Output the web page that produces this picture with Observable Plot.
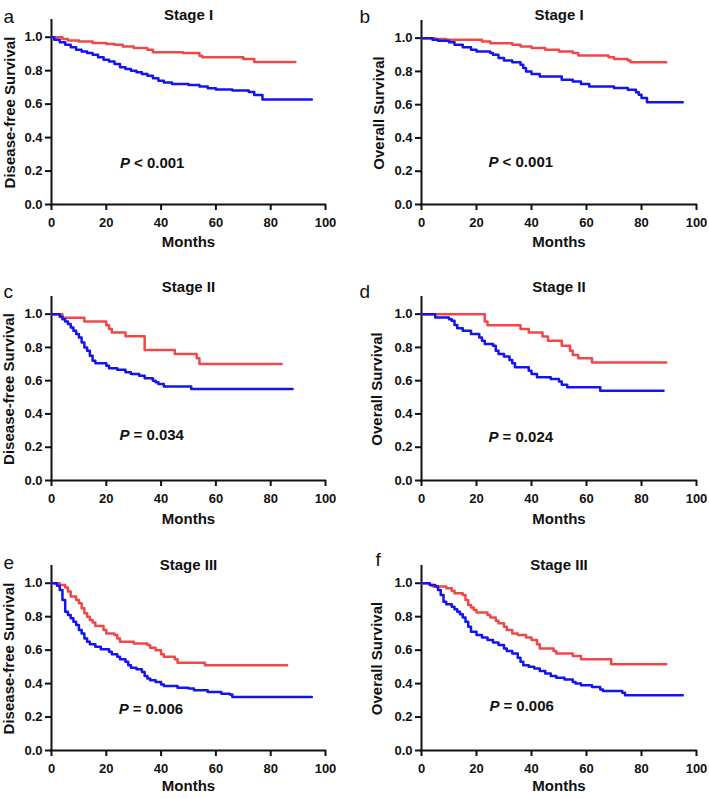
<!DOCTYPE html>
<html>
<head>
<meta charset="utf-8">
<script src="https://cdn.jsdelivr.net/npm/d3@7"></script>
<script src="https://cdn.jsdelivr.net/npm/@observablehq/plot@0.6"></script>
<style>
  body { margin: 0; background: #fff; }
  #wrap { position: relative; width: 709px; height: 798px; background: #fff; overflow: hidden; }
  .panel { position: absolute; }
</style>
</head>
<body>
<div id="wrap"></div>
<script>
// ---- Data (months, survival probability) ----
const xTicks = [0, 20, 40, 60, 80, 100];
const yTicks = [0, 0.2, 0.4, 0.6, 0.8, 1.0];

// a: Stage I, disease-free survival
const aRedMonths = [0,4,6,10,15,20,23,26,30,35,37,48,54,55,70,74,89];
const aRedSurv   = [1,0.99,0.98,0.975,0.965,0.96,0.955,0.945,0.935,0.925,0.91,0.905,0.89,0.88,0.87,0.852,0.852];
const aBlueMonths = [0,1,3,5,7,9,11,13,15,17,19,21,23,25,27,29,31,33,35,37,39,41,44,50,54,57,60,66,72,74,77,95];
const aBlueSurv   = [1,0.985,0.97,0.955,0.94,0.925,0.915,0.905,0.895,0.88,0.865,0.855,0.84,0.82,0.81,0.8,0.79,0.78,0.77,0.755,0.74,0.73,0.72,0.715,0.705,0.695,0.688,0.682,0.672,0.655,0.628,0.628];

// b: Stage I, overall survival
const bRedMonths = [0,5,9,22,25,33,36,40,45,50,55,57,68,70,75,76,89];
const bRedSurv   = [1,0.995,0.99,0.98,0.97,0.96,0.95,0.94,0.93,0.92,0.91,0.895,0.885,0.875,0.865,0.855,0.855];
const bBlueMonths = [0,4,6,10,12,15,18,20,25,26,28,30,33,36,37,38,40,43,51,55,58,61,70,75,78,79,80,82,95];
const bBlueSurv   = [1,0.99,0.985,0.975,0.96,0.945,0.93,0.92,0.91,0.9,0.88,0.865,0.855,0.84,0.82,0.8,0.785,0.77,0.75,0.74,0.725,0.71,0.7,0.69,0.675,0.66,0.64,0.615,0.615];

// c: Stage II, disease-free survival
const cRedMonths = [0,4,12,20,21,22,27,34,45,53,54,84];
const cRedSurv   = [1,0.978,0.956,0.933,0.91,0.889,0.867,0.784,0.76,0.735,0.70,0.70];
const cBlueMonths = [0,3,4,5,6,7,8,9,10,11,12,13,14,15,16,20,21,24,27,29,32,34,37,38,39,41,51,88];
const cBlueSurv   = [1,0.985,0.97,0.955,0.94,0.92,0.9,0.88,0.86,0.83,0.8,0.78,0.75,0.72,0.705,0.69,0.675,0.665,0.65,0.64,0.63,0.615,0.6,0.59,0.58,0.565,0.55,0.55];

// d: Stage II, overall survival
const dRedMonths = [0,23,24,36,39,44,46,51,54,55,57,62,89];
const dRedSurv   = [1,0.955,0.933,0.91,0.89,0.865,0.84,0.81,0.78,0.755,0.735,0.71,0.71];
const dBlueMonths = [0,5,10,11,12,13,15,18,21,22,23,26,27,28,30,32,33,34,39,40,42,47,50,51,53,65,88];
const dBlueSurv   = [1,0.98,0.97,0.96,0.935,0.915,0.9,0.88,0.86,0.84,0.82,0.81,0.78,0.76,0.745,0.725,0.705,0.68,0.66,0.64,0.62,0.61,0.595,0.575,0.56,0.54,0.54];

// e: Stage III, disease-free survival
const eRedMonths = [0,3,5,6,7,9,10,11,12,13,14,15,16,19,20,23,24,25,30,35,36,38,40,41,45,46,56,86];
const eRedSurv   = [1,0.99,0.975,0.95,0.92,0.9,0.88,0.85,0.82,0.8,0.78,0.765,0.745,0.72,0.7,0.69,0.67,0.65,0.64,0.63,0.615,0.6,0.575,0.56,0.545,0.525,0.51,0.51];
const eBlueMonths = [0,2,3,4,5,6,7,8,9,10,11,12,13,14,16,18,21,22,24,25,27,28,29,31,33,34,35,36,38,40,41,46,50,52,57,62,65,66,95];
const eBlueSurv   = [1,0.985,0.96,0.9,0.83,0.81,0.79,0.77,0.75,0.72,0.70,0.67,0.65,0.635,0.62,0.605,0.59,0.575,0.56,0.545,0.53,0.51,0.495,0.485,0.47,0.445,0.43,0.42,0.41,0.395,0.385,0.375,0.37,0.36,0.35,0.34,0.335,0.32,0.32];

// f: Stage III, overall survival
const fRedMonths = [0,3,4,9,11,12,15,16,17,18,19,20,24,25,27,28,30,31,33,35,38,40,42,43,48,49,55,58,69,89];
const fRedSurv   = [1,0.99,0.98,0.97,0.955,0.94,0.93,0.9,0.87,0.855,0.84,0.825,0.81,0.795,0.775,0.76,0.74,0.72,0.70,0.69,0.675,0.66,0.635,0.61,0.595,0.58,0.565,0.545,0.515,0.515];
const fBlueMonths = [0,3,5,6,7,8,9,11,12,13,14,15,16,17,18,20,22,24,26,28,30,31,33,35,36,37,39,41,43,45,47,49,52,55,56,58,62,65,66,73,74,95];
const fBlueSurv   = [1,0.99,0.98,0.96,0.93,0.89,0.875,0.86,0.845,0.83,0.815,0.795,0.77,0.74,0.71,0.69,0.675,0.66,0.645,0.63,0.61,0.595,0.58,0.555,0.53,0.51,0.5,0.49,0.475,0.46,0.445,0.435,0.425,0.41,0.4,0.39,0.38,0.365,0.355,0.345,0.33,0.33];

const panelLetters = ["a", "b", "c", "d", "e", "f"];
const panelTitles  = ["Stage I", "Stage I", "Stage II", "Stage II", "Stage III", "Stage III"];
const yLabels      = ["Disease-free Survival", "Overall Survival", "Disease-free Survival", "Overall Survival", "Disease-free Survival", "Overall Survival"];
const pTexts       = ["< 0.001", "< 0.001", "= 0.034", "= 0.024", "= 0.006", "= 0.006"];
const pMonth       = [25, 24.4, 24.8, 24.4, 24.5, 24.7];
const pSurv        = [0.245, 0.253, 0.275, 0.26, 0.247, 0.263];

const redCurves  = [[aRedMonths, aRedSurv], [bRedMonths, bRedSurv], [cRedMonths, cRedSurv], [dRedMonths, dRedSurv], [eRedMonths, eRedSurv], [fRedMonths, fRedSurv]];
const blueCurves = [[aBlueMonths, aBlueSurv], [bBlueMonths, bBlueSurv], [cBlueMonths, cBlueSurv], [dBlueMonths, dBlueSurv], [eBlueMonths, eBlueSurv], [fBlueMonths, fBlueSurv]];

const RED = "#f04848";
const BLUE = "#1414f0";

// layout of each panel
const layout = [
  {left: 0,   top: 0,   w: 354, ml: 51, mr: 29, mt: 20, mb: 62, letterDx: -48, letterDy: -11, titleDy: -11, ylabOff: -41, monthsDy: 42},
  {left: 354, top: 0,   w: 355, ml: 67, mr: 13, mt: 21, mb: 62, letterDx: -62, letterDy: -12, titleDy: -12, ylabOff: -42, monthsDy: 42},
  {left: 0,   top: 266, w: 354, ml: 51, mr: 29, mt: 31, mb: 52, letterDx: -48, letterDy: -13, titleDy: -16, ylabOff: -42, monthsDy: 43},
  {left: 354, top: 266, w: 355, ml: 67, mr: 13, mt: 31, mb: 52, letterDx: -62, letterDy: -13, titleDy: -16, ylabOff: -44, monthsDy: 43},
  {left: 0,   top: 532, w: 354, ml: 51, mr: 29, mt: 34, mb: 48, letterDx: -48, letterDy: -11, titleDy: -7,  ylabOff: -42, monthsDy: 40},
  {left: 354, top: 532, w: 355, ml: 67, mr: 13, mt: 34, mb: 48, letterDx: -46, letterDy: -14, titleDy: -7,  ylabOff: -44, monthsDy: 40}
];

const toRows = ([m, s]) => m.map((v, i) => ({month: v, surv: s[i]}));
const wrap = document.getElementById("wrap");

layout.forEach((L, i) => {
  const chart = Plot.plot({
    width: L.w,
    height: 266,
    marginLeft: L.ml,
    marginRight: L.mr,
    marginTop: L.mt,
    marginBottom: L.mb,
    style: {fontFamily: "'Liberation Sans', Arial, Helvetica, sans-serif", fontSize: "13px", fontWeight: "bold", color: "#111", background: "#fff", overflow: "visible"},
    x: {domain: [0, 100]},
    y: {domain: [0, 1.1]},
    marks: [
      Plot.axisX({ticks: xTicks, tickSize: 6, tickPadding: 7, strokeWidth: 2, fontSize: 13, label: null}),
      Plot.axisY({ticks: yTicks, tickSize: 6, tickPadding: 3, strokeWidth: 2, fontSize: 13, tickFormat: d3.format(".1f"), label: null}),
      Plot.ruleX([0], {strokeWidth: 2, strokeLinecap: "square"}),
      Plot.ruleY([0], {strokeWidth: 2, strokeLinecap: "square"}),
      Plot.line(toRows(redCurves[i]), {x: "month", y: "surv", curve: "step-after", stroke: RED, strokeWidth: 2.5}),
      Plot.line(toRows(blueCurves[i]), {x: "month", y: "surv", curve: "step-after", stroke: BLUE, strokeWidth: 2.5}),
      Plot.text([panelTitles[i]], {text: d => d, frameAnchor: "top", dy: L.titleDy, fontSize: 15, fontWeight: "bold"}),
      Plot.text([panelLetters[i]], {text: d => d, frameAnchor: "top-left", textAnchor: "start", dx: L.letterDx, dy: L.letterDy, fontSize: 19, fontWeight: "normal"}),
      Plot.text([yLabels[i]], {text: d => d, frameAnchor: "left", textAnchor: "middle", lineAnchor: "middle", rotate: -90, dx: L.ylabOff, fontSize: 15, fontWeight: "bold"}),
      Plot.text(["Months"], {text: d => d, frameAnchor: "bottom", dy: L.monthsDy, fontSize: 15, fontWeight: "bold"}),
      Plot.text([{m: pMonth[i], s: pSurv[i]}], {x: "m", y: "s", text: () => "P", textAnchor: "start", fontSize: 15, fontWeight: "bold", fontStyle: "italic"}),
      Plot.text([{m: pMonth[i], s: pSurv[i]}], {x: "m", y: "s", text: () => pTexts[i], textAnchor: "start", dx: 14, fontSize: 15, fontWeight: "bold"})
    ]
  });
  const div = document.createElement("div");
  div.className = "panel";
  div.style.left = L.left + "px";
  div.style.top = L.top + "px";
  div.appendChild(chart);
  wrap.appendChild(div);
});
</script>
</body>
</html>
